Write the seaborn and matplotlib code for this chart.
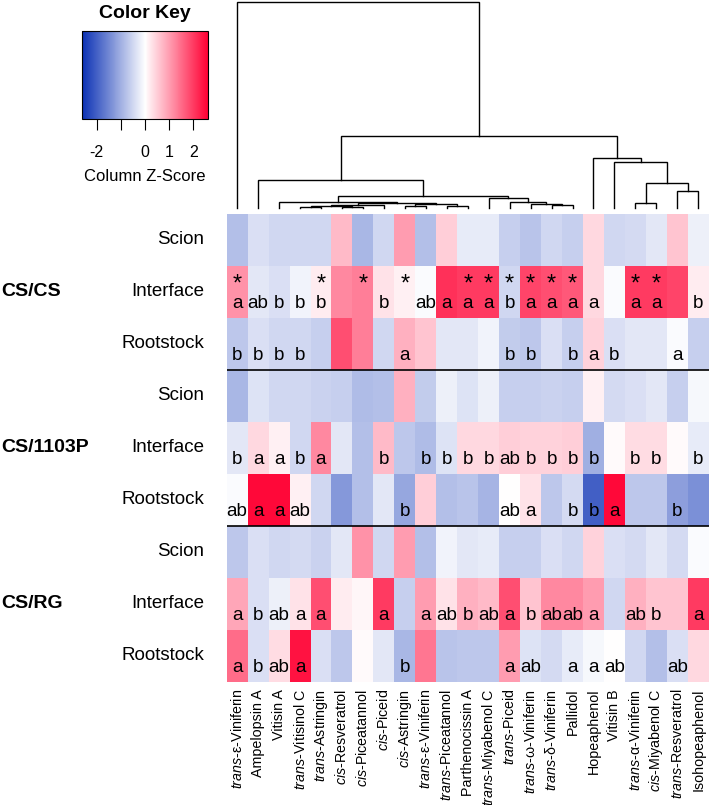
import numpy as np
import pandas as pd
import matplotlib
matplotlib.use("Agg")
import matplotlib.pyplot as plt
import seaborn as sns
from matplotlib.colors import LinearSegmentedColormap, Normalize
from matplotlib.cm import ScalarMappable
from matplotlib.transforms import blended_transform_factory

####### Data ##############################
compounds = [r"$\mathit{trans}$-ε-Viniferin", "Ampelopsin A", "Vitisin A", r"$\mathit{trans}$-Vitisinol C",
             r"$\mathit{trans}$-Astringin", r"$\mathit{cis}$-Resveratrol", r"$\mathit{cis}$-Piceatannol",
             r"$\mathit{cis}$-Piceid", r"$\mathit{cis}$-Astringin", r"$\mathit{trans}$-ε-Viniferin",
             r"$\mathit{trans}$-Piceatannol", "Parthenocissin A", r"$\mathit{trans}$-Miyabenol C",
             r"$\mathit{trans}$-Piceid", r"$\mathit{trans}$-ω-Viniferin", r"$\mathit{trans}$-δ-Viniferin",
             "Pallidol", "Hopeaphenol", "Vitisin B", r"$\mathit{trans}$-α-Viniferin",
             r"$\mathit{cis}$-Miyabenol C", r"$\mathit{trans}$-Resveratrol", "Isohopeaphenol"]
tissues = ["Scion", "Interface", "Rootstock"]
grafts = ["CS/CS", "CS/1103P", "CS/RG"]

# column z-scores, one list per row (graft x tissue)
cscs_scion = [-0.8, -0.4, -0.5, -0.5, -0.5, 0.7, -0.9, -0.5, 1.0, -0.8, 0.5, -0.25, -0.25, -0.6, -0.75, -0.5, -0.6, 0.4, -0.5, -0.45, -0.3, 0.6, -0.2]
cscs_interface = [1.1, -0.3, -0.4, -0.15, 0.2, 1.2, 1.3, 0.3, 0.15, -0.05, 2.1, 2.0, 2.0, -0.5, 1.9, 1.8, 1.7, 0.4, -0.05, 2.0, 2.0, 1.9, 0.2]
cscs_root = [-0.7, -0.4, -0.5, -0.5, -0.6, 1.8, 1.3, -0.5, 0.8, 0.6, -0.3, -0.3, -0.15, -0.65, -0.7, -0.4, -0.6, 0.45, -0.4, -0.3, -0.3, -0.05, -0.6]
p1103_scion = [-0.9, -0.35, -0.5, -0.5, -0.55, -0.6, -0.85, -0.8, 0.8, -0.65, -0.2, -0.35, -0.2, -0.6, -0.6, -0.55, -0.6, 0.15, -0.45, -0.4, -0.3, -0.6, -0.1]
p1103_interface = [-0.3, 0.4, 0.15, -0.5, 1.2, -0.3, -0.8, 0.7, -0.7, -0.85, -0.35, 0.4, 0.4, 0.5, 0.45, 0.45, 0.5, -1.0, 0.05, 0.35, 0.35, 0.05, -0.25]
p1103_root = [-0.05, 2.5, 2.5, 0.15, -0.5, -1.3, -0.8, -0.3, -1.1, 0.5, -0.8, -0.75, -0.95, 0.0, 0.3, -0.7, -0.45, -2.0, 2.5, -0.7, -0.7, -1.2, -1.4]
rg_scion = [-0.7, -0.4, -0.5, -0.45, -0.55, -0.3, 1.1, -0.5, 1.0, -0.8, -0.15, -0.3, -0.25, -0.6, -0.6, -0.4, -0.5, 0.45, -0.4, -0.45, -0.3, -0.45, -0.05]
rg_interface = [0.9, -0.4, -0.2, 0.3, 1.8, 0.2, 0.1, 2.0, -0.6, 1.0, 0.3, 0.8, 0.7, 1.8, 0.6, 1.2, 1.2, 1.0, -0.5, 0.8, 0.6, 0.6, 2.0]
rg_root = [1.5, -0.4, 0.35, 2.4, -0.4, -0.7, 0.05, -0.3, -0.9, 1.4, -0.75, -0.7, -0.7, 1.0, -0.35, -0.45, -0.25, -0.1, 0.0, -0.5, -0.8, -0.4, 0.4]

# significance letters per row ("" = none)
no_letters = [""] * 23
cscs_int_letters = ["a", "ab", "b", "b", "b", "", "", "b", "", "ab", "a", "a", "a", "b", "a", "a", "a", "a", "", "a", "a", "", "b"]
cscs_root_letters = ["b", "b", "b", "b", "", "", "", "", "a", "", "", "", "", "b", "b", "", "b", "a", "b", "", "", "a", ""]
p1103_int_letters = ["b", "a", "a", "b", "a", "", "", "b", "", "b", "b", "b", "b", "ab", "b", "b", "b", "b", "", "b", "b", "", "b"]
p1103_root_letters = ["ab", "a", "a", "ab", "", "", "", "", "b", "", "", "", "", "ab", "a", "", "b", "b", "a", "", "", "b", ""]
rg_int_letters = ["a", "b", "ab", "a", "a", "", "", "a", "", "a", "ab", "b", "ab", "a", "b", "ab", "ab", "a", "", "ab", "b", "", "a"]
rg_root_letters = ["a", "b", "ab", "a", "", "", "", "", "b", "", "", "", "", "a", "ab", "", "a", "a", "ab", "", "", "ab", ""]

# asterisks in the CS/CS interface row (1 = marked)
cscs_int_star = [1, 0, 0, 0, 1, 0, 1, 0, 1, 0, 0, 1, 1, 1, 1, 1, 1, 0, 0, 1, 1, 0, 0]

# column dendrogram: merges as (left, right, height); ints < 23 are leaves, larger ids are earlier merges
merges = [(3, 4, 1.5), (5, 6, 1.0), (23, 24, 2.5), (25, 7, 3.0), (8, 9, 2.3), (10, 11, 2.3),
          (27, 28, 4.5), (26, 29, 5.5), (2, 30, 6.3), (15, 16, 3.0), (14, 32, 4.3), (13, 33, 6.3),
          (12, 34, 9.7), (31, 35, 12.3), (1, 36, 28.0), (19, 20, 4.7), (21, 22, 17.0), (38, 39, 25.3),
          (18, 40, 46.3), (17, 41, 49.7), (37, 42, 72.0), (0, 43, 206.3)]

z = pd.DataFrame([cscs_scion, cscs_interface, cscs_root, p1103_scion, p1103_interface, p1103_root,
                  rg_scion, rg_interface, rg_root])
letters = [no_letters, cscs_int_letters, cscs_root_letters, no_letters, p1103_int_letters,
           p1103_root_letters, no_letters, rg_int_letters, rg_root_letters]

plt.rcParams['font.family'] = ['Liberation Sans', 'DejaVu Sans']
plt.rcParams['mathtext.fontset'] = 'custom'
plt.rcParams['mathtext.rm'] = 'Liberation Sans'
plt.rcParams['mathtext.it'] = 'Liberation Sans:italic'
plt.rcParams['axes.unicode_minus'] = False

cmap = LinearSegmentedColormap.from_list("bwr_key", ["#0a30b4", "#ffffff", "#ff0033"])
zmin, zmax = -2.6, 2.6

fig = plt.figure(figsize=(7.09, 8.05), dpi=100)

####### Heatmap ##########
ax = fig.add_axes([0.3197, 0.1528, 0.68, 0.5814])
sns.heatmap(z, cmap=cmap, vmin=zmin, vmax=zmax, cbar=False, ax=ax,
            xticklabels=compounds, yticklabels=tissues * 3)
ax.tick_params(axis='both', length=0)
ax.tick_params(axis='y', pad=16, labelsize=13.5)
ax.tick_params(axis='x', pad=5, labelsize=10.3)
plt.setp(ax.get_yticklabels(), rotation=0)
plt.setp(ax.get_xticklabels(), rotation=90)

# letters and asterisks
for i, row in enumerate(letters):
    for j, s in enumerate(row):
        if s:
            ax.text(j + 0.5, i + 0.72, s, ha='center', va='center', fontsize=13.5)
for j, star in enumerate(cscs_int_star):
    if star:
        ax.text(j + 0.5, 1 + 0.36, '*', ha='center', va='center', fontsize=17)

# group separators and labels
for k in [3, 6]:
    ax.axhline(k, color='black', linewidth=1.2)
trans = blended_transform_factory(fig.transFigure, ax.transData)
for g, name in enumerate(grafts):
    ax.text(0.002, 3 * g + 1.5, name, transform=trans, ha='left', va='center',
            fontsize=14, fontweight='bold')

####### Column dendrogram ##########
dax = fig.add_axes([0.3197, 0.7416, 0.68, 0.2563])
pos = {i: i + 0.5 for i in range(23)}
hgt = {i: 0.0 for i in range(23)}
for k, (l, r, h) in enumerate(merges):
    node = 23 + k
    dax.plot([pos[l], pos[l], pos[r], pos[r]], [hgt[l], h, h, hgt[r]],
             color='black', linewidth=1.0, solid_joinstyle='miter', clip_on=False)
    pos[node] = (pos[l] + pos[r]) / 2
    hgt[node] = h
dax.set_xlim(0, 23)
dax.set_ylim(0, merges[-1][2])
dax.axis('off')

####### Color key ##########
kax = fig.add_axes([0.1157, 0.8522, 0.1777, 0.1093])
sm = ScalarMappable(norm=Normalize(zmin, zmax), cmap=cmap)
cb = fig.colorbar(sm, cax=kax, orientation='horizontal')
cb.set_ticks([-2, -1, 0, 1, 2])
cb.set_ticklabels(["-2", "", "0", "1", "2"])
cb.outline.set_linewidth(0.8)
kax.tick_params(axis='x', direction='out', length=8, width=0.8, pad=11, labelsize=11.5)
kax.set_xlabel("Column Z-Score", fontsize=12, labelpad=6)
fig.text(145 / 709, 1 - 14 / 805, "Color Key", ha='center', va='center',
         fontsize=14, fontweight='bold')

fig.savefig("out.png", dpi=100)
